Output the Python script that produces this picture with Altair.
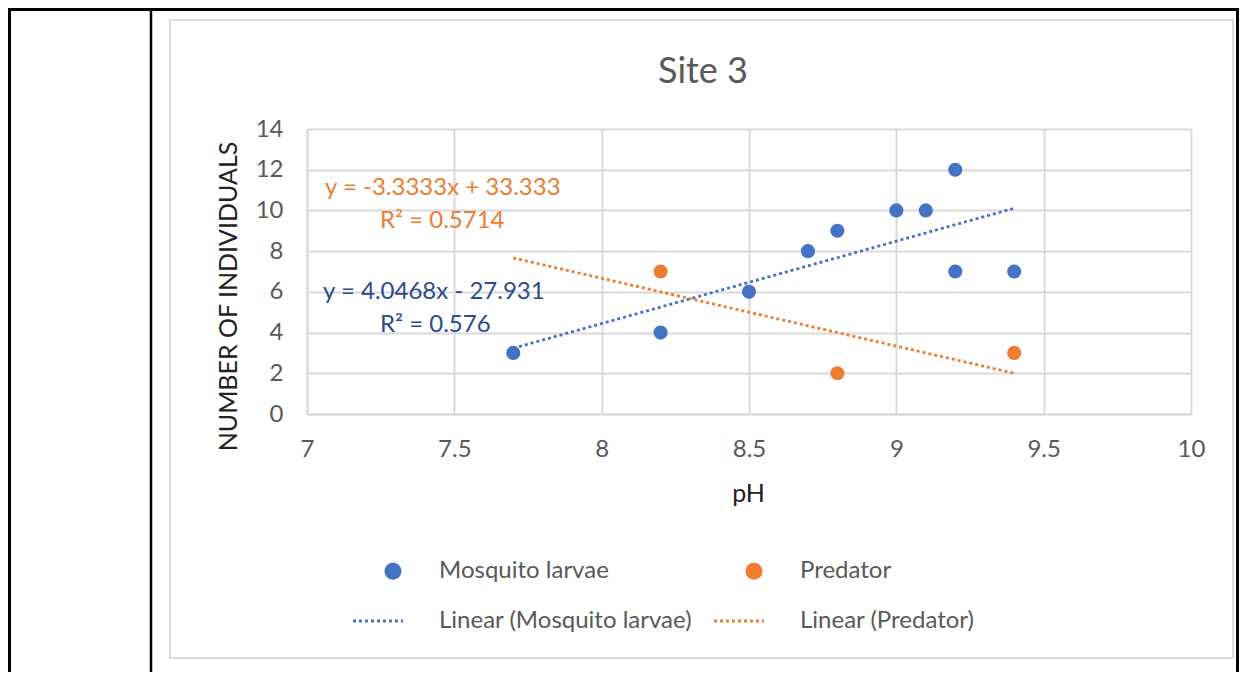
import altair as alt
import pandas as pd

# ---- data ----
larvae_ph = [7.7, 8.2, 8.5, 8.7, 8.8, 9.0, 9.1, 9.2, 9.2, 9.4]
larvae_n = [3, 4, 6, 8, 9, 10, 10, 12, 7, 7]
predator_ph = [8.2, 8.8, 9.4]
predator_n = [7, 2, 3]
series_names = ["Mosquito larvae", "Predator"]
legend_labels = ["Mosquito larvae", "Linear (Mosquito larvae)", "Predator", "Linear (Predator)"]
equation_labels = ["y = -3.3333x + 33.333", "R² = 0.5714", "y = 4.0468x - 27.931", "R² = 0.576"]
x_ticks = [7, 7.5, 8, 8.5, 9, 9.5, 10]
y_ticks = [0, 2, 4, 6, 8, 10, 12, 14]
trend_extent = [7.7, 9.4]
chart_title = "Site 3"

df = pd.DataFrame({
    "series": [series_names[0]] * len(larvae_ph) + [series_names[1]] * len(predator_ph),
    "pH": larvae_ph + predator_ph,
    "n": larvae_n + predator_n,
})

BLUE = "#4472C4"
ORANGE = "#ED7D31"
NAVY = "#2B4C8C"
GREY_TXT = "#595959"
GRID = "#d9d9d9"
FONT = "Lato"
LINE_SYMBOL = "M-5.66,0H1.41"

color_scale = alt.Scale(domain=legend_labels, range=[BLUE, BLUE, ORANGE, ORANGE])
shape_scale = alt.Scale(domain=legend_labels, range=["circle", LINE_SYMBOL, "circle", LINE_SYMBOL])
dash_scale = alt.Scale(domain=legend_labels, range=[[1, 0], [3, 3], [1, 0], [3, 3]])

legend = alt.Legend(
    title=None, orient="none", legendX=46, legendY=430, columns=2,
    labelFontSize=24, labelColor=GREY_TXT, labelFont=FONT, labelLimit=500,
    symbolSize=200, symbolOffset=28, labelOffset=34,
    columnPadding=15, rowPadding=25, symbolStrokeWidth=2.8,
)

x_enc = alt.X(
    "pH:Q",
    scale=alt.Scale(domain=[7, 10], nice=False, zero=False),
    axis=alt.Axis(
        values=x_ticks, format="~g", title="pH", titleX=441, titleY=79,
        titleAlign="center", titleBaseline="middle", labelFlush=False,
        labelBaseline="middle", labelPadding=35,
    ),
)
y_enc = alt.Y(
    "n:Q",
    scale=alt.Scale(domain=[0, 14], nice=False),
    axis=alt.Axis(
        values=y_ticks, title="NUMBER OF INDIVIDUALS", titleX=-79, titleY=167,
        titleAngle=270, titleAlign="center", titleBaseline="middle",
        labelPadding=24, labelFlush=False,
    ),
)

points = alt.Chart(df).transform_calculate(
    key="datum.series"
).mark_point(filled=True, opacity=1, size=200).encode(
    x=x_enc,
    y=y_enc,
    color=alt.Color("key:N", scale=color_scale, legend=legend),
    shape=alt.Shape("key:N", scale=shape_scale, legend=legend),
    strokeDash=alt.StrokeDash("key:N", scale=dash_scale, legend=legend),
)

lines = alt.Chart(df).transform_regression(
    "pH", "n", groupby=["series"], extent=trend_extent
).transform_calculate(
    key="'Linear (' + datum.series + ')'"
).mark_line(strokeWidth=2.8, strokeCap="butt").encode(
    x=alt.X("pH:Q"),
    y=alt.Y("n:Q"),
    color=alt.Color("key:N", scale=color_scale, legend=legend),
    strokeDash=alt.StrokeDash("key:N", scale=dash_scale, legend=legend),
)

one = pd.DataFrame({"k": [0]})

frame = alt.Chart(one).mark_rect(fillOpacity=0, stroke=GRID, strokeWidth=2).encode(
    x=alt.value(-137), x2=alt.value(926), y=alt.value(-109), y2=alt.value(529)
)
black_v = alt.Chart(one).mark_rule(color="black", strokeWidth=2.5).encode(
    x=alt.value(-156), y=alt.value(-121), y2=alt.value(543)
)
black_top = alt.Chart(one).mark_rule(color="black", strokeWidth=3).encode(
    x=alt.value(-299), x2=alt.value(932), y=alt.value(-119.5)
)
black_left = alt.Chart(one).mark_rule(color="black", strokeWidth=3).encode(
    x=alt.value(-297.5), y=alt.value(-121), y2=alt.value(543)
)
black_right = alt.Chart(one).mark_rule(color="black", strokeWidth=3).encode(
    x=alt.value(930.5), y=alt.value(-121), y2=alt.value(543)
)


def label(txt, x, y, color, size=24, align="left"):
    return alt.Chart(pd.DataFrame({"t": [txt]})).mark_text(
        font=FONT, fontSize=size, color=color, align=align, baseline="middle"
    ).encode(text="t:N", x=alt.value(x), y=alt.value(y))


title = label(chart_title, 396, -57, GREY_TXT, size=36, align="center")
eq1 = label(equation_labels[0], 18, 59, ORANGE)
eq2 = label(equation_labels[1], 73, 92, ORANGE)
eq3 = label(equation_labels[2], 16, 163, NAVY)
eq4 = label(equation_labels[3], 73, 196, NAVY)

chart = alt.layer(
    frame, black_v, black_top, black_left, black_right,
    lines, points, title, eq1, eq2, eq3, eq4,
).properties(
    width=884, height=285,
    autosize=alt.AutoSizeParams(type="none"),
    padding={"left": 299, "top": 121, "right": 48, "bottom": 258},
    background="white",
).configure_view(stroke=None).configure_axis(
    grid=True, gridColor=GRID, gridWidth=2, domainColor=GRID, domainWidth=2,
    ticks=False, labelFont=FONT, labelFontSize=24, labelColor=GREY_TXT,
    titleFont=FONT, titleFontSize=25, titleColor="#222222", titleFontWeight="normal",
)

chart.save("out.html", embed_options={"renderer": "svg", "actions": False})
